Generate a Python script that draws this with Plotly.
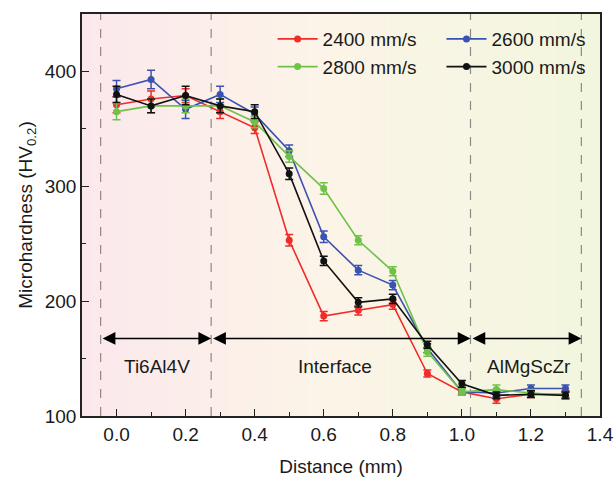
import plotly.graph_objects as go

# ---------------- data ----------------
distance = [0.0, 0.1, 0.2, 0.3, 0.4, 0.5, 0.6, 0.7, 0.8, 0.9, 1.0, 1.1, 1.2, 1.3]

hv_2400 = [371, 376, 379, 365, 351, 253, 187, 192, 197, 137, 121, 115, 119, 119]
err_2400 = [7, 7, 6, 6, 5, 5, 4, 4, 4, 3, 3, 4, 3, 3]

hv_2600 = [385, 393, 367, 380, 363, 331, 256, 227, 214, 159, 121, 120, 124, 124]
err_2600 = [7, 8, 8, 7, 6, 5, 5, 4, 4, 4, 3, 3, 3, 3]

hv_2800 = [365, 370, 370, 370, 356, 326, 298, 253, 226, 156, 121, 123, 120, 118]
err_2800 = [7, 6, 6, 6, 5, 5, 5, 4, 4, 4, 3, 4, 3, 3]

hv_3000 = [380, 370, 379, 370, 365, 311, 235, 199, 202, 162, 128, 118, 119, 118]
err_3000 = [7, 6, 8, 6, 6, 5, 4, 4, 4, 3, 3, 3, 3, 3]

series_names = ["2400 mm/s", "2600 mm/s", "2800 mm/s", "3000 mm/s"]

region_bounds = [-0.046, 0.274, 1.025, 1.346]
region_labels = ["Ti6Al4V", "Interface", "AlMgScZr"]
region_label_x = [0.116, 0.633, 1.193]
arrow_y = 167.5
label_y = 142.7

x_ticks = [0.0, 0.2, 0.4, 0.6, 0.8, 1.0, 1.2, 1.4]
y_ticks = [100, 200, 300, 400]

# ---------------- style ----------------
FONT = "Liberation Sans, Arial, sans-serif"
FS = 19
colors = ["#f12a2a", "#3a52b2", "#6fc247", "#111111"]
legends = ["legend", "legend2", "legend", "legend2"]

fig = go.Figure()

all_vals = [hv_2400, hv_2600, hv_2800, hv_3000]
all_errs = [err_2400, err_2600, err_2800, err_3000]

for name, vals, errs, col, lg in zip(series_names, all_vals, all_errs, colors, legends):
    fig.add_trace(go.Scatter(
        x=distance, y=vals, name=name, mode="lines+markers",
        line=dict(color=col, width=1.6),
        marker=dict(color=col, size=7, symbol="circle"),
        error_y=dict(type="data", array=errs, visible=True, color=col,
                     thickness=1.5, width=4),
        legend=lg,
    ))

# gradient background via thin rectangles
def lerp(a, b, t):
    return tuple(int(round(a[i] + (b[i] - a[i]) * t)) for i in range(3))

stops = [(0.0, (251, 232, 236)), (0.45, (252, 244, 232)), (1.0, (242, 246, 222))]
N = 120
shapes = []
for i in range(N):
    t = (i + 0.5) / N
    for k in range(len(stops) - 1):
        if stops[k][0] <= t <= stops[k + 1][0]:
            tt = (t - stops[k][0]) / (stops[k + 1][0] - stops[k][0])
            c = lerp(stops[k][1], stops[k + 1][1], tt)
            break
    shapes.append(dict(type="rect", xref="x domain", yref="y domain",
                       x0=i / N, x1=(i + 1) / N + 0.002, y0=0, y1=1,
                       fillcolor="rgb(%d,%d,%d)" % c, line=dict(width=0),
                       layer="below"))

for xb in region_bounds:
    shapes.append(dict(type="line", xref="x", yref="y domain", x0=xb, x1=xb,
                       y0=0, y1=1, line=dict(color="#8a8a8a", width=1.2, dash="dash"),
                       layer="below"))

annotations = []
for i in range(len(region_labels)):
    annotations.append(dict(
        x=region_bounds[i + 1], y=arrow_y, ax=region_bounds[i], ay=arrow_y,
        xref="x", yref="y", axref="x", ayref="y", text=" ", showarrow=True,
        arrowhead=2, startarrowhead=2, arrowside="end+start",
        arrowsize=1.7, startarrowsize=1.7, arrowwidth=1.5, arrowcolor="black",
        standoff=0, startstandoff=0, font=dict(size=2)))
    annotations.append(dict(
        x=region_label_x[i], y=label_y, xref="x", yref="y",
        text=region_labels[i], showarrow=False,
        font=dict(family=FONT, size=FS, color="#1a1a1a")))

fig.update_layout(
    width=615, height=477,
    margin=dict(l=81.5, r=15, t=14, b=61.3, autoexpand=False),
    paper_bgcolor="white", plot_bgcolor="#fbf3e8",
    font=dict(family=FONT, size=FS, color="#1a1a1a"),
    shapes=shapes, annotations=annotations,
    showlegend=True,
    legend=dict(x=0.368, y=0.985, xanchor="left", yanchor="top",
                bgcolor="rgba(0,0,0,0)", font=dict(size=FS),
                tracegroupgap=0, itemwidth=40),
    legend2=dict(x=0.694, y=0.985, xanchor="left", yanchor="top",
                 bgcolor="rgba(0,0,0,0)", font=dict(size=FS),
                 tracegroupgap=0, itemwidth=40),
    xaxis=dict(
        range=[-0.1, 1.4], tickvals=x_ticks, tickformat=".1f",
        ticks="inside", ticklen=7, tickwidth=1.3, tickcolor="#222",
        minor=dict(dtick=0.1, tick0=0, ticks="inside", ticklen=4, tickwidth=1.3, tickcolor="#222"),
        showline=True, linecolor="#222", linewidth=1.5, mirror=True,
        showgrid=False, zeroline=False, automargin=False,
        title=dict(text="Distance (mm)", font=dict(size=FS), standoff=18),
    ),
    yaxis=dict(
        range=[100, 450], tickvals=y_ticks,
        ticks="inside", ticklen=7, tickwidth=1.3, tickcolor="#222",
        minor=dict(dtick=50, tick0=100, ticks="inside", ticklen=4, tickwidth=1.3, tickcolor="#222"),
        showline=True, linecolor="#222", linewidth=1.5, mirror=True,
        showgrid=False, zeroline=False, automargin=False,
        title=dict(text="Microhardness (HV<sub>0.2</sub>)", font=dict(size=FS), standoff=7),
    ),
)

fig.write_html("out.html")
